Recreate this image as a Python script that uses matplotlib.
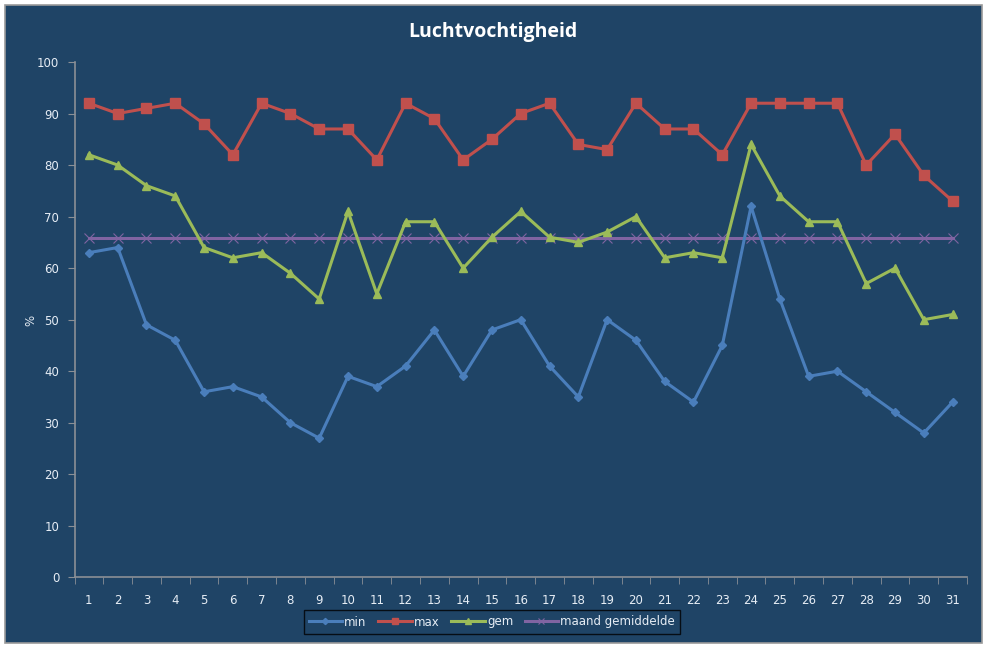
import matplotlib
matplotlib.use("Agg")
import matplotlib.pyplot as plt
from matplotlib.patches import Rectangle

days = list(range(1, 32))
v_min = [63, 64, 49, 46, 36, 37, 35, 30, 27, 39, 37, 41, 48, 39, 48, 50, 41, 35, 50, 46,
         38, 34, 45, 72, 54, 39, 40, 36, 32, 28, 34]
v_max = [92, 90, 91, 92, 88, 82, 92, 90, 87, 87, 81, 92, 89, 81, 85, 90, 92, 84, 83, 92,
         87, 87, 82, 92, 92, 92, 92, 80, 86, 78, 73]
v_gem = [82, 80, 76, 74, 64, 62, 63, 59, 54, 71, 55, 69, 69, 60, 66, 71, 66, 65, 67, 70,
         62, 63, 62, 84, 74, 69, 69, 57, 60, 50, 51]
v_maand = [65.9] * 31
y_ticks = list(range(0, 101, 10))

BG = "#1f4466"
TXT = "#e6edf5"
AX = "#8a8f96"

fig = plt.figure(figsize=(9.87, 6.48), dpi=100, facecolor="white")
fig.patches.append(Rectangle((5 / 987, 5 / 648), 977 / 987, 638 / 648, transform=fig.transFigure,
                             facecolor=BG, edgecolor="#9a9a9a", linewidth=1.2, zorder=-10))

ax = fig.add_axes([74.5 / 987, 1 - 577.3 / 648, (967 - 74.5) / 987, (577.3 - 62) / 648])
ax.set_zorder(2)
ax.set_facecolor(BG)
ax.patch.set_alpha(0)

ax.plot(days, v_min, color="#4a7ebb", lw=2.2, marker="D", ms=4.5, label="min", zorder=3)
ax.plot(days, v_max, color="#c0504d", lw=2.2, marker="s", ms=6.5, label="max", zorder=3)
ax.plot(days, v_gem, color="#9bbb59", lw=2.2, marker="^", ms=6, label="gem", zorder=3)
ax.plot(days, v_maand, color="#8064a2", lw=2.2, marker="x", ms=7, mew=0.8, label="maand gemiddelde", zorder=2)

ax.set_xlim(0.5, 31.5)
ax.set_ylim(0, 100)
ax.set_yticks(y_ticks)
ax.set_xticks(days)
ax.set_xticks([d + 0.5 for d in range(0, 32)], minor=True)
ax.tick_params(axis="x", which="major", length=0, pad=12, colors=TXT, labelsize=8.5)
ax.tick_params(axis="x", which="minor", length=5, direction="out", color=AX)
ax.tick_params(axis="y", length=5, direction="out", color=AX, colors=TXT, labelsize=8.5, pad=6)
for lab in ax.get_yticklabels() + ax.get_xticklabels():
    lab.set_color(TXT)
for s in ["top", "right"]:
    ax.spines[s].set_visible(False)
for s in ["left", "bottom"]:
    ax.spines[s].set_color(AX)
    ax.spines[s].set_linewidth(1.2)

fig.text(31 / 987, 1 - 320 / 648, "%", rotation=90, ha="center", va="center",
         color=TXT, fontsize=8.5)

fig.text(493 / 987, 1 - 32 / 648, "Luchtvochtigheid", ha="center", va="center",
         color="white", fontsize=14, fontweight="bold", family="Open Sans")

leg = fig.legend(loc="center", bbox_to_anchor=(492 / 987, 1 - 622 / 648), ncol=4,
                 frameon=True, fontsize=8.5, handlelength=2.8, columnspacing=1.0,
                 handletextpad=0.2, borderpad=0.45, markerscale=0.7)
leg.get_frame().set_facecolor(BG)
leg.get_frame().set_edgecolor("black")
leg.get_frame().set_linewidth(1.0)
leg.get_frame().set_boxstyle("square", pad=0)
for t in leg.get_texts():
    t.set_color(TXT)

fig.savefig("out.png", dpi=100, facecolor="white")
